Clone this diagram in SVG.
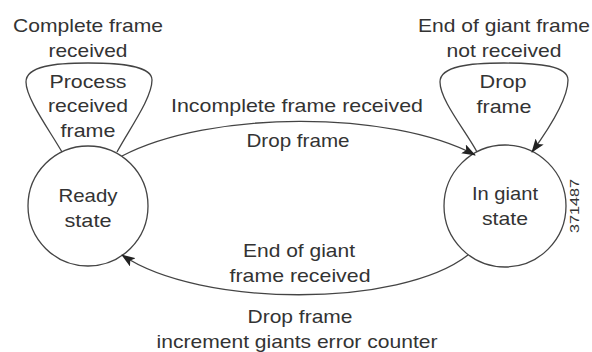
<svg xmlns="http://www.w3.org/2000/svg" width="592" height="352" viewBox="0 0 592 352">
<defs>
<style>
text{font-family:"Liberation Sans",Arial,sans-serif;font-size:19px;fill:#333;text-anchor:middle}
.node{fill:none;stroke:#444;stroke-width:1.3}
.edge{fill:none;stroke:#444;stroke-width:1.3}
.id{font-size:13px}
</style>
<marker id="arr" markerUnits="userSpaceOnUse" markerWidth="14" markerHeight="10" viewBox="0 0 14 10" refX="13" refY="5" orient="auto">
<path d="M0,0 L14,5 L0,10 L3,5 Z" fill="#222"/>
</marker>
</defs>
<rect width="592" height="352" fill="#fff"/>
<g id="ready">
<circle class="node" cx="88" cy="206" r="60"/>
<text x="88" y="202" textLength="59" lengthAdjust="spacingAndGlyphs">Ready</text>
<text x="88" y="227" textLength="47" lengthAdjust="spacingAndGlyphs">state</text>
</g>
<g id="giant">
<circle class="node" cx="505" cy="206" r="61"/>
<text x="505" y="200" textLength="66" lengthAdjust="spacingAndGlyphs">In giant</text>
<text x="505" y="225" textLength="46" lengthAdjust="spacingAndGlyphs">state</text>
</g>
<g id="connectors">
<path class="edge" d="M62,152 C48,128 26,98 26,82 C26,66 55,63 88,63 C122,63 152,66 152,80 C152,98 130,128 117,152"/>
<path class="edge" d="M477,152 C465,130 440,100 440,82 C440,66 470,63 504,63 C540,63 568,66 568,80 C568,100 548,130 532,152" marker-end="url(#arr)"/>
<path class="edge" d="M122,156 C210,110 390,110 475,155" marker-end="url(#arr)"/>
<path class="edge" d="M468,255 C400,308 200,308 122,255" marker-end="url(#arr)"/>
</g>
<g id="labels">
<text x="88" y="32" textLength="150" lengthAdjust="spacingAndGlyphs">Complete frame</text>
<text x="88" y="57" textLength="79" lengthAdjust="spacingAndGlyphs">received</text>
<text x="88" y="88" textLength="77" lengthAdjust="spacingAndGlyphs">Process</text>
<text x="88" y="112" textLength="80" lengthAdjust="spacingAndGlyphs">received</text>
<text x="88" y="137" textLength="55" lengthAdjust="spacingAndGlyphs">frame</text>
<text x="504" y="32" textLength="172" lengthAdjust="spacingAndGlyphs">End of giant frame</text>
<text x="504" y="57" textLength="115" lengthAdjust="spacingAndGlyphs">not received</text>
<text x="503" y="88" textLength="47" lengthAdjust="spacingAndGlyphs">Drop</text>
<text x="504" y="113" textLength="55" lengthAdjust="spacingAndGlyphs">frame</text>
<text x="297" y="112" textLength="252" lengthAdjust="spacingAndGlyphs">Incomplete frame received</text>
<text x="298" y="147" textLength="103" lengthAdjust="spacingAndGlyphs">Drop frame</text>
<text x="299" y="257" textLength="112" lengthAdjust="spacingAndGlyphs">End of giant</text>
<text x="300" y="282" textLength="141" lengthAdjust="spacingAndGlyphs">frame received</text>
<text x="300" y="323" textLength="105" lengthAdjust="spacingAndGlyphs">Drop frame</text>
<text x="297" y="348" textLength="281" lengthAdjust="spacingAndGlyphs">increment giants error counter</text>
<text class="id" x="0" y="0" transform="translate(579,206) rotate(-90)" textLength="54" lengthAdjust="spacingAndGlyphs">371487</text>
</g>
</svg>
